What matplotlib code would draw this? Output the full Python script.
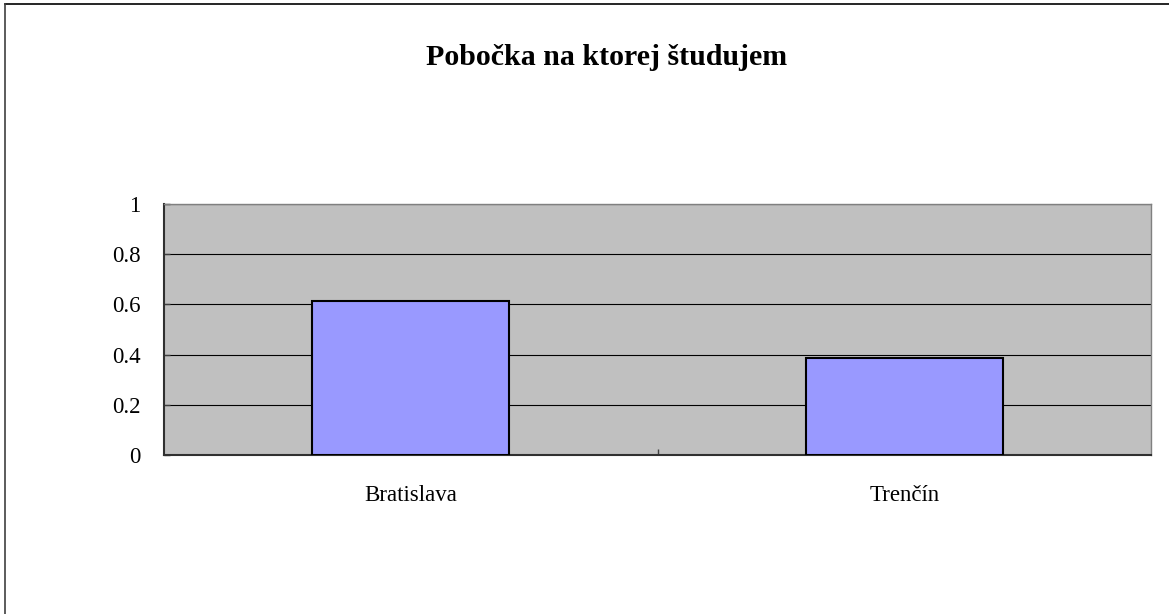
import matplotlib
matplotlib.use('Agg')
from matplotlib import pyplot
from matplotlib.lines import Line2D

# Data #
categories = ['Bratislava', 'Trenčín']
shares     = [0.615, 0.385]
y_ticks    = [0, 0.2, 0.4, 0.6, 0.8, 1]
y_labels   = ['0', '0.2', '0.4', '0.6', '0.8', '1']
title      = 'Pobočka na ktorej študujem'

# Figure #
pyplot.rcParams['font.family'] = ['Liberation Serif', 'DejaVu Serif']
fig  = pyplot.figure(figsize=(11.69, 6.14), dpi=100)
axes = fig.add_axes([0.1403, 0.259, 0.8443, 0.409])

# Bars #
positions = list(range(len(categories)))
axes.bar(positions, shares, width=0.4, color='#9999FF', edgecolor='black', linewidth=1.5, zorder=3)

# Axes look #
axes.set_facecolor('#C0C0C0')
axes.set_xlim(-0.5, len(categories) - 0.5)
axes.set_ylim(0, 1)
axes.set_yticks(y_ticks)
axes.set_yticklabels(y_labels, fontsize=16.5)
axes.yaxis.grid(True, color='black', linewidth=0.8, zorder=1)
axes.set_axisbelow(True)
axes.set_xticks([0.5])
axes.set_xticklabels([''])
axes.tick_params(axis='x', direction='in', length=4, width=1, color='#404040')
axes.tick_params(axis='y', direction='in', length=4, width=1, color='#404040', pad=17)
for i, name in enumerate(categories):
    axes.text(i, -0.16, name, ha='center', va='center', fontsize=16.5, transform=axes.get_xaxis_transform())
for side in ('top', 'right'):
    axes.spines[side].set_color('#808080')
    axes.spines[side].set_linewidth(1)
for side in ('left', 'bottom'):
    axes.spines[side].set_color('#303030')
    axes.spines[side].set_linewidth(1.5)

# Title #
fig.text(0.519, 0.907, title, ha='center', va='center', fontsize=21.5, fontweight='bold')

# Outer frame (top and left only) #
fig.add_artist(Line2D([0.0045, 1.0], [0.9935, 0.9935], color='black', linewidth=1.2, transform=fig.transFigure))
fig.add_artist(Line2D([0.0045, 0.0045], [0.0, 0.9935], color='#404040', linewidth=1.2, transform=fig.transFigure))

fig.savefig('out.png', dpi=100)
pyplot.close(fig)
